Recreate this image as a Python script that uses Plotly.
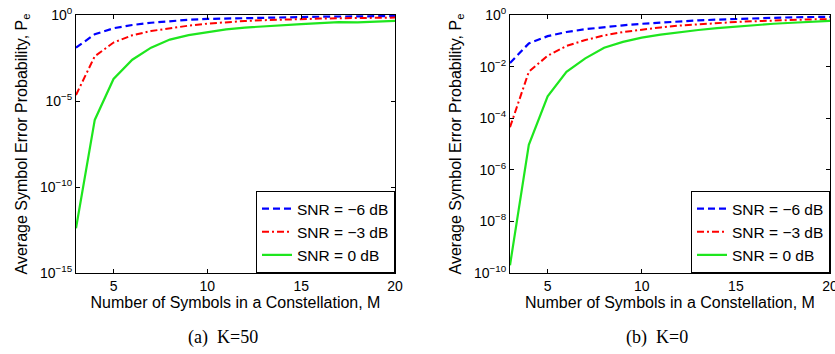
import plotly.graph_objects as go

M = list(range(3, 21))

# K = 50 panel
k50_snr_m6 = [1.26e-2, 7.59e-2, 0.170, 0.263, 0.355, 0.447, 0.525, 0.589, 0.631,
              0.676, 0.708, 0.741, 0.759, 0.794, 0.813, 0.832, 0.851, 0.871]
k50_snr_m3 = [2.24e-5, 3.98e-3, 2.51e-2, 6.61e-2, 0.117, 0.170, 0.240, 0.316, 0.389,
              0.447, 0.501, 0.550, 0.589, 0.617, 0.646, 0.676, 0.692, 0.708]
k50_snr_0 = [3.98e-13, 7.94e-7, 1.91e-4, 2.51e-3, 1.26e-2, 3.72e-2, 6.76e-2, 0.102, 0.145,
             0.186, 0.224, 0.263, 0.295, 0.339, 0.389, 0.372, 0.417, 0.457]

# K = 0 panel
k0_snr_m6 = [1.38e-2, 7.94e-2, 0.151, 0.219, 0.282, 0.339, 0.398, 0.457, 0.513,
             0.562, 0.617, 0.661, 0.708, 0.741, 0.776, 0.813, 0.832, 0.851]
k0_snr_m3 = [4.47e-5, 6.31e-3, 2.63e-2, 6.31e-2, 0.107, 0.162, 0.219, 0.275, 0.331,
             0.389, 0.437, 0.490, 0.537, 0.575, 0.617, 0.646, 0.676, 0.692]
k0_snr_0 = [2.0e-10, 9.33e-6, 7.08e-4, 6.31e-3, 2.09e-2, 5.37e-2, 9.12e-2, 0.132, 0.174,
            0.219, 0.263, 0.309, 0.355, 0.407, 0.457, 0.501, 0.550, 0.589]

series_names = ["SNR = \u22126 dB", "SNR = \u22123 dB", "SNR = 0 dB"]
x_ticks = [5, 10, 15, 20]
y_ticks_a = [1e-15, 1e-10, 1e-5, 1]
y_labels_a = ["10<sup>\u221215</sup>", "10<sup>\u221210</sup>", "10<sup>\u22125</sup>", "10<sup>0</sup>"]
y_ticks_b = [1e-10, 1e-8, 1e-6, 1e-4, 1e-2, 1]
y_labels_b = ["10<sup>\u221210</sup>", "10<sup>\u22128</sup>", "10<sup>\u22126</sup>",
              "10<sup>\u22124</sup>", "10<sup>\u22122</sup>", "10<sup>0</sup>"]
captions = ["(a)\u00a0\u00a0K=50", "(b)\u00a0\u00a0K=0"]
x_title = "Number of Symbols in a Constellation, M"
y_title = "Average Symbol Error Probability, P<sub>e</sub>"

W, H = 835, 354
FONT = "Liberation Sans, Arial, Helvetica, sans-serif"

styles = [
    dict(color="#0000ff", width=2.2, dash="7px,4px"),
    dict(color="#ff0000", width=2.0, dash="7px,3px,2px,3px"),
    dict(color="#1ee61e", width=2.2, dash="solid"),
]

fig = go.Figure()
panels = [
    ("x", "y", "legend", [k50_snr_m6, k50_snr_m3, k50_snr_0]),
    ("x2", "y2", "legend2", [k0_snr_m6, k0_snr_m3, k0_snr_0]),
]
for xa, ya, lg, data in panels:
    for name, vals, st in zip(series_names, data, styles):
        fig.add_trace(go.Scatter(x=M, y=vals, mode="lines", name=name, line=st,
                                 xaxis=xa, yaxis=ya, legend=lg))

def px_x(p):
    return p / W

def px_y(p):
    return 1 - p / H

axis_common = dict(showline=True, linecolor="black", linewidth=1, mirror="ticks",
                   ticks="inside", ticklen=4, tickcolor="black", showgrid=False,
                   zeroline=False, ticklabeloverflow="allow",
                   tickfont=dict(family=FONT, size=14, color="black"))

xd1 = [px_x(76), px_x(395)]
xd2 = [px_x(510), px_x(830)]
yd = [px_y(273), px_y(15)]

TS = 16
fig.update_layout(
    width=W, height=H, margin=dict(l=0, r=0, t=0, b=0),
    template="none", paper_bgcolor="white", plot_bgcolor="white",
    font=dict(family=FONT, size=14, color="black"),
    xaxis=dict(domain=xd1, range=[3, 20], tickvals=x_ticks, anchor="y",
               title=dict(text=x_title, standoff=2, font=dict(size=TS)), **axis_common),
    yaxis=dict(domain=yd, type="log", range=[-15, 0], tickvals=y_ticks_a, ticktext=y_labels_a,
               anchor="x", title=dict(text=y_title, standoff=8, font=dict(size=TS)), **axis_common),
    xaxis2=dict(domain=xd2, range=[3, 20], tickvals=x_ticks, anchor="y2",
                title=dict(text=x_title, standoff=2, font=dict(size=TS)), **axis_common),
    yaxis2=dict(domain=yd, type="log", range=[-10, 0], tickvals=y_ticks_b, ticktext=y_labels_b,
                anchor="x2", title=dict(text=y_title, standoff=8, font=dict(size=TS)), **axis_common),
    legend=dict(x=px_x(395), xanchor="right", y=px_y(273), yanchor="bottom",
                bgcolor="white", bordercolor="black", borderwidth=1,
                font=dict(family=FONT, size=15.5), tracegroupgap=0, itemwidth=30),
    legend2=dict(x=px_x(830), xanchor="right", y=px_y(273), yanchor="bottom",
                 bgcolor="white", bordercolor="black", borderwidth=1,
                 font=dict(family=FONT, size=15.5), tracegroupgap=0, itemwidth=30),
    showlegend=True,
)

for cap, cx in zip(captions, [223, 657]):
    fig.add_annotation(text=cap, x=px_x(cx), y=px_y(337), xref="paper", yref="paper",
                       showarrow=False, xanchor="center", yanchor="middle",
                       font=dict(family="Liberation Serif, Times New Roman, serif", size=18, color="black"))

# remove the default 8px page margin so the figure fills the window exactly
fig.write_html("out.html", config={"displayModeBar": False},
               post_script="document.body.style.margin='0px';document.body.style.overflow='hidden';")
